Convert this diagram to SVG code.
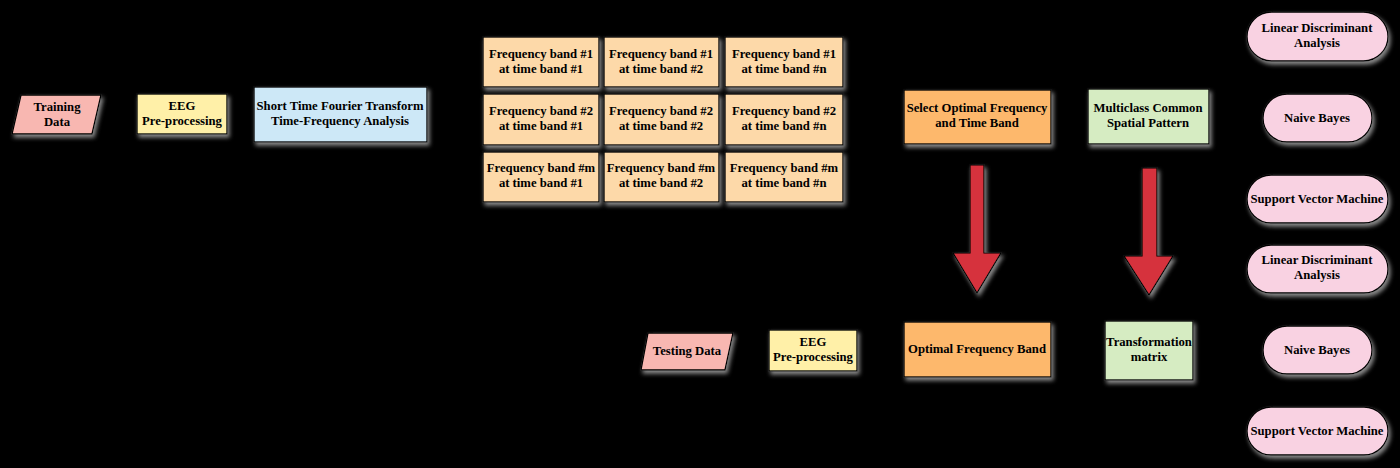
<svg xmlns="http://www.w3.org/2000/svg" width="1400" height="468" viewBox="0 0 1400 468">
<defs>
<filter id="sh" x="-20%" y="-30%" width="140%" height="160%">
<feDropShadow dx="2" dy="3" stdDeviation="2" flood-color="#8a8a8a" flood-opacity="1"/>
</filter>
<marker id="ah" markerWidth="8" markerHeight="8" refX="7" refY="4" orient="auto" markerUnits="userSpaceOnUse">
<path d="M0,0 L8,4 L0,8 Z" fill="#000"/>
</marker>
</defs>
<style>
.n{stroke:#000;stroke-width:1.3;filter:url(#sh)}
.t{font-family:"Liberation Serif","Times New Roman",serif;font-weight:bold;font-size:12.7px;fill:#000;text-anchor:middle}
.pk{fill:#f8b7b1}
.ye{fill:#fff0a8}
.bl{fill:#cde8f7}
.pe{fill:#fdd9a9}
.or{fill:#fdb86c}
.gr{fill:#d6ecc2}
.cl{fill:#f9d2e2}
.ar{fill:#d6323d;stroke:#000;stroke-width:1.2;filter:url(#sh)}
.c{stroke:#000;stroke-width:1.2;fill:none;marker-end:url(#ah)}
</style>
<rect width="1400" height="468" fill="#000"/>
<g id="connectors">
<path class="c" d="M98,115 L136,115"/>
<path class="c" d="M227,115 L253,115"/>
<path class="c" d="M427,115 L481,115"/>
<path class="c" d="M843,117 L903,117"/>
<path class="c" d="M1051,117 L1087,117"/>
<path class="c" d="M1209,117 L1228,117 L1228,37 L1246,37"/>
<path class="c" d="M1209,117 L1262,117"/>
<path class="c" d="M1209,117 L1228,117 L1228,199 L1246,199"/>
<path class="c" d="M728,351 L768,351"/>
<path class="c" d="M857,351 L902,351"/>
<path class="c" d="M1051,350 L1103,350"/>
<path class="c" d="M1193,350 L1228,350 L1228,269 L1246,269"/>
<path class="c" d="M1193,350 L1262,350"/>
<path class="c" d="M1193,350 L1228,350 L1228,431 L1246,431"/>
</g>
<g id="training-data"><path class="n pk" d="M21,95 L101,95 L92,134 L12,134 Z"/><text class="t" x="57" y="111">Training</text><text class="t" x="57" y="126">Data</text></g>
<g id="eeg-1"><rect class="n ye" x="137" y="94" width="90" height="40"/><text class="t" x="182" y="110">EEG</text><text class="t" x="182" y="125">Pre-processing</text></g>
<g id="stft"><rect class="n bl" x="254" y="87" width="173" height="55"/><text class="t" x="340" y="110">Short Time Fourier Transform</text><text class="t" x="340" y="125">Time-Frequency Analysis</text></g>
<g id="cell-1-1"><rect class="n pe" x="483" y="37" width="116" height="50"/><text class="t" x="541" y="58">Frequency band #1</text><text class="t" x="541" y="73">at time band #1</text></g>
<g id="cell-1-2"><rect class="n pe" x="604" y="37" width="115" height="50"/><text class="t" x="661" y="58">Frequency band #1</text><text class="t" x="661" y="73">at time band #2</text></g>
<g id="cell-1-n"><rect class="n pe" x="725" y="37" width="118" height="50"/><text class="t" x="784" y="58">Frequency band #1</text><text class="t" x="784" y="73">at time band #n</text></g>
<g id="cell-2-1"><rect class="n pe" x="483" y="94" width="116" height="51"/><text class="t" x="541" y="115">Frequency band #2</text><text class="t" x="541" y="130">at time band #1</text></g>
<g id="cell-2-2"><rect class="n pe" x="604" y="94" width="115" height="51"/><text class="t" x="661" y="115">Frequency band #2</text><text class="t" x="661" y="130">at time band #2</text></g>
<g id="cell-2-n"><rect class="n pe" x="725" y="94" width="118" height="51"/><text class="t" x="784" y="115">Frequency band #2</text><text class="t" x="784" y="130">at time band #n</text></g>
<g id="cell-m-1"><rect class="n pe" x="483" y="152" width="116" height="50"/><text class="t" x="541" y="172">Frequency band #m</text><text class="t" x="541" y="187">at time band #1</text></g>
<g id="cell-m-2"><rect class="n pe" x="604" y="152" width="115" height="50"/><text class="t" x="661" y="172">Frequency band #m</text><text class="t" x="661" y="187">at time band #2</text></g>
<g id="cell-m-n"><rect class="n pe" x="725" y="152" width="118" height="50"/><text class="t" x="784" y="172">Frequency band #m</text><text class="t" x="784" y="187">at time band #n</text></g>
<g id="select-optimal"><rect class="n or" x="904" y="90" width="147" height="54"/><text class="t" x="977" y="112">Select Optimal Frequency</text><text class="t" x="977" y="127">and Time Band</text></g>
<g id="mcsp"><rect class="n gr" x="1088" y="89" width="121" height="55"/><text class="t" x="1148" y="112">Multiclass Common</text><text class="t" x="1148" y="127">Spatial Pattern</text></g>
<g id="lda-1"><rect class="n cl" x="1247" y="12" width="141" height="49" rx="24.5"/><text class="t" x="1317" y="32">Linear Discriminant</text><text class="t" x="1317" y="47">Analysis</text></g>
<g id="nb-1"><rect class="n cl" x="1263" y="94" width="109" height="48" rx="24"/><text class="t" x="1317" y="122">Naive Bayes</text></g>
<g id="svm-1"><rect class="n cl" x="1247" y="175" width="141" height="48" rx="24"/><text class="t" x="1317" y="203">Support Vector Machine</text></g>
<g id="arrow-1"><path class="ar" d="M970,165 L984,165 L984,253 L1001,253 L977,293 L953,253 L970,253 Z"/></g>
<g id="arrow-2"><path class="ar" d="M1142,168 L1157,168 L1157,256 L1173,256 L1149,295 L1124,256 L1142,256 Z"/></g>
<g id="lda-2"><rect class="n cl" x="1247" y="245" width="141" height="48" rx="24"/><text class="t" x="1317" y="264">Linear Discriminant</text><text class="t" x="1317" y="279">Analysis</text></g>
<g id="testing-data"><path class="n pk" d="M648,333 L733,333 L725,370 L641,370 Z"/><text class="t" x="687" y="355">Testing Data</text></g>
<g id="eeg-2"><rect class="n ye" x="769" y="330" width="88" height="41"/><text class="t" x="813" y="346">EEG</text><text class="t" x="813" y="361">Pre-processing</text></g>
<g id="optimal-band"><rect class="n or" x="904" y="322" width="147" height="55"/><text class="t" x="977" y="353">Optimal Frequency Band</text></g>
<g id="transformation"><rect class="n gr" x="1105" y="321" width="88" height="59"/><text class="t" x="1149" y="346">Transformation</text><text class="t" x="1149" y="361">matrix</text></g>
<g id="nb-2"><rect class="n cl" x="1263" y="326" width="109" height="48" rx="24"/><text class="t" x="1317" y="354">Naive Bayes</text></g>
<g id="svm-2"><rect class="n cl" x="1247" y="407" width="141" height="48" rx="24"/><text class="t" x="1317" y="435">Support Vector Machine</text></g>
</svg>
